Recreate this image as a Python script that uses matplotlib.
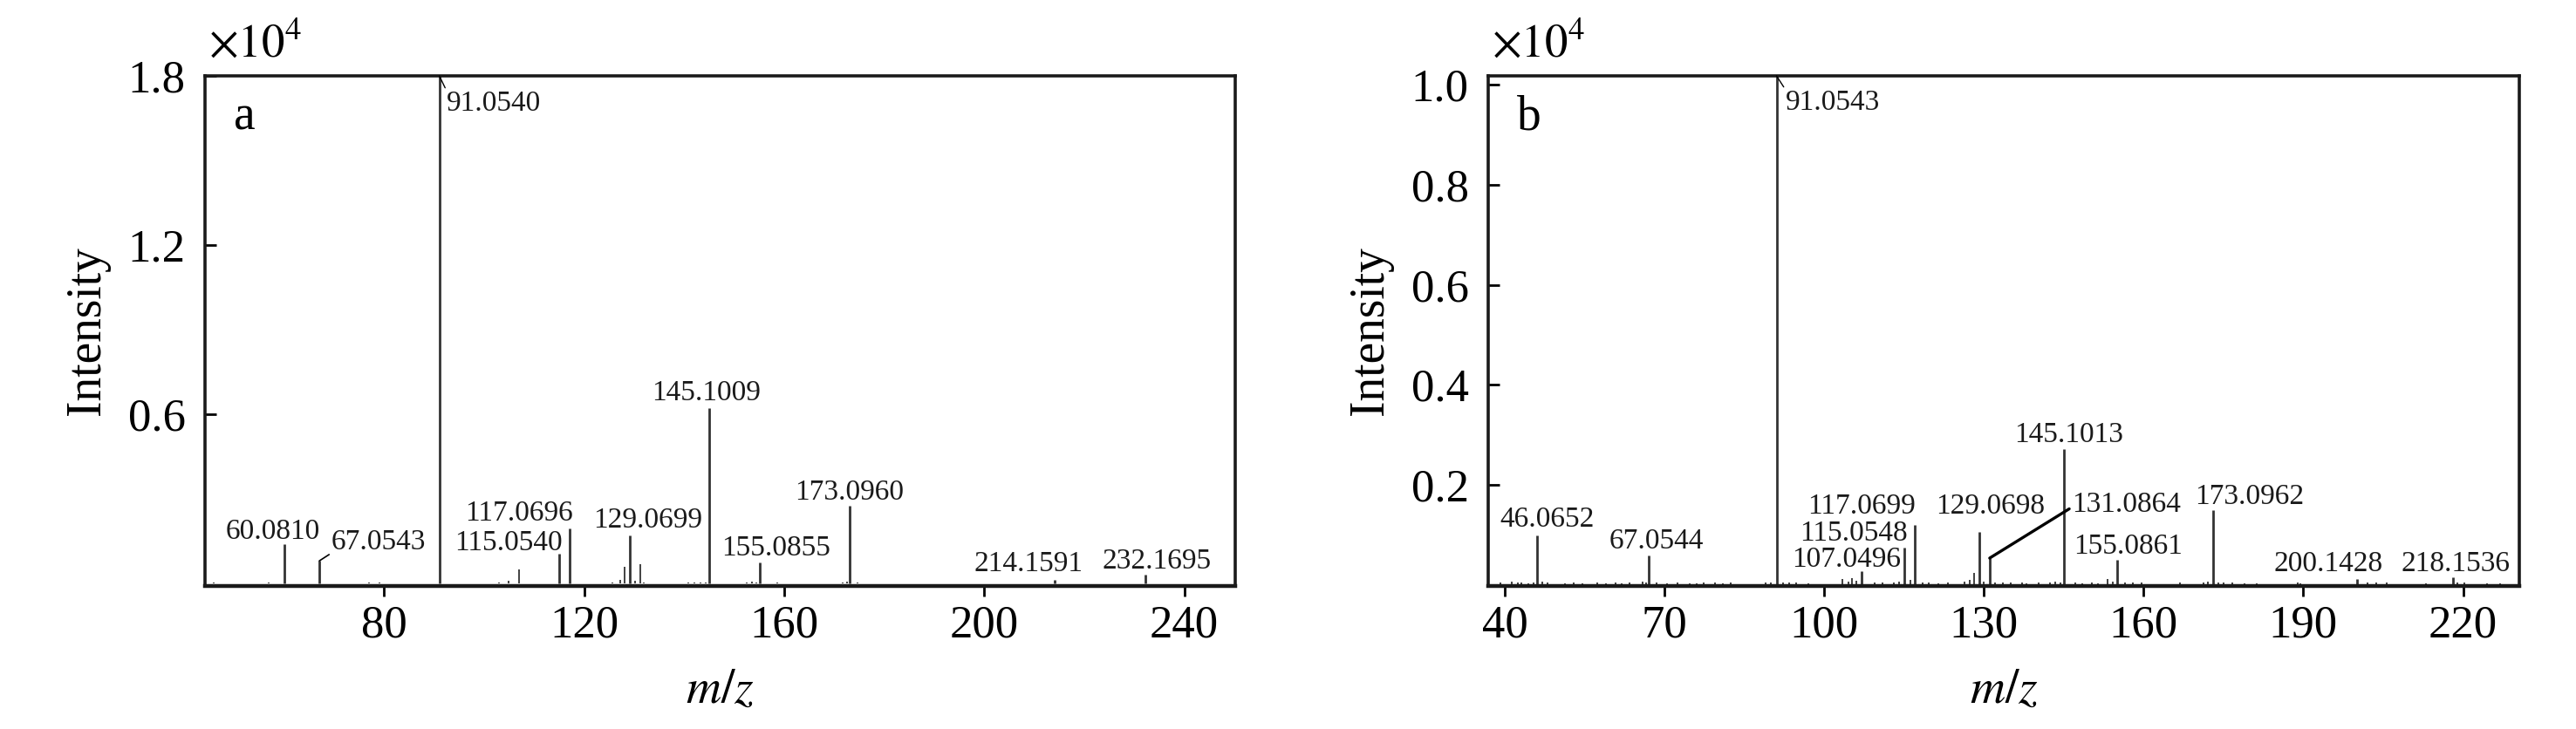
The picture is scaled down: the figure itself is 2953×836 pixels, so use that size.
import numpy as np
import matplotlib.pyplot as plt
from matplotlib.ticker import FuncFormatter

plt.rcParams['font.family'] = ['Liberation Serif', 'DejaVu Serif']
plt.rcParams['mathtext.fontset'] = 'stix'

# ---- panel a : labelled peaks (m/z, intensity counts)
a_mz = [60.0810, 67.0543, 91.0540, 115.0540, 117.0696, 129.0699,
        145.1009, 155.0855, 173.0960, 214.1591, 232.1695]
a_int = [1400, 810, 18000, 1070, 1950, 1710, 6210, 760, 2775, 140, 320]
# unlabelled small peaks
a_small_mz = [45.9, 55.1, 57.0, 65.0, 77.0, 79.1, 95.3, 103.0, 104.9, 107.07,
              125.7, 127.2, 128.1, 130.2, 131.2, 131.9, 140.9, 142.1, 143.2,
              144.4, 152.6, 153.6, 154.4, 158.7, 171.7, 172.5, 174.6]
a_small_int = [30, 25, 30, 25, 35, 30, 20, 45, 110, 520,
               30, 140, 600, 100, 700, 40, 40, 50, 50,
               40, 40, 60, 40, 30, 40, 60, 50]

# ---- panel b
b_mz = [46.0652, 67.0544, 91.0543, 107.0496, 115.0548, 117.0699, 129.0698,
        131.0864, 145.1013, 155.0861, 173.0962, 200.1428, 218.1536]
b_int = [980, 580, 10180, 270, 740, 1200, 1060, 535, 2715, 495, 1495, 117, 146]
b_small_mz = [39.2, 41.3, 42.5, 43.2, 44.5, 45.4, 47.0, 48.0, 51.3, 53.0, 54.6,
              57.4, 59.0, 60.8, 62.0, 63.4, 65.9, 66.5, 68.5, 70.5, 72.5, 74.7,
              76.0, 77.3, 79.5, 81.0, 82.4, 89.0, 90.0, 92.2, 93.5, 94.8, 97.0,
              103.4, 104.5, 105.3, 106.0, 109.4, 111.0, 113.1, 114.0, 116.2,
              118.5, 119.7, 121.5, 123.3, 126.3, 127.3, 128.1, 130.0, 132.1,
              133.5, 135.0, 137.2, 138.0, 140.3, 142.4, 143.4, 144.3, 147.2,
              148.5, 150.3, 151.5, 153.3, 154.2, 156.5, 158.0, 159.6, 166.9,
              171.2, 172.0, 174.0, 175.1, 176.6, 178.9, 181.3, 188.97, 189.5,
              202.1, 203.7, 205.6, 213.0, 219.0, 220.3, 224.5, 226.9]
b_small_int = [40, 60, 40, 50, 30, 50, 60, 40, 30, 40, 35,
               50, 30, 45, 30, 40, 60, 40, 50, 30, 40, 35,
               30, 50, 40, 35, 40, 40, 55, 50, 40, 45, 30,
               117, 60, 140, 80, 50, 40, 50, 60, 100,
               50, 40, 35, 40, 60, 100, 234, 60, 50,
               40, 45, 40, 35, 40, 50, 60, 40, 40,
               35, 40, 35, 117, 60, 40, 45, 40, 40,
               50, 60, 50, 45, 40, 35, 30, 40, 30,
               40, 40, 40, 30, 50, 40, 35, 35]

# label placement (offset in pixels from peak top, horizontal alignment)
a_place = [(-13, 6, 'center'), (14, 13, 'left'), (8, -40, 'left'), (4, 4, 'right'),
           (4, 9, 'right'), (21, 9, 'center'), (-4, 9, 'center'), (19, 8, 'center'),
           (0, 7, 'center'), (-30, 10, 'center'), (13, 7, 'center')]
b_place = [(12, 10, 'center'), (9, 8, 'center'), (10, -39, 'left'), (45, 5, 'right'),
           (4, 8, 'right'), (1, 13, 'right'), (13, 21, 'center'), (94, 53, 'left'),
           (5, 8, 'center'), (12, 7, 'center'), (41, 7, 'center'), (-33, 9, 'center'),
           (3, 7, 'center')]
# peaks that get a leader line: index -> (relpos, linewidth)
a_leaders = {1: ((0, 0.1), 1.2), 2: ((0, 1), 1.0)}
b_leaders = {2: ((0, 1), 1.0), 7: ((0, 0.4), 2.4)}

PEAK = '#333333'


def draw_panel(ax, mz, inten, small_mz, small_int, place, leaders,
               xlim, ylim, xticks, yticks, letter):
    ax.vlines(small_mz, 0, small_int, color=PEAK, lw=1.3)
    ax.vlines(mz, 0, inten, color=PEAK, lw=2.0)
    for i, (m, h) in enumerate(zip(mz, inten)):
        dx, dy, ha = place[i]
        kw = {}
        if i in leaders:
            rp, lw = leaders[i]
            kw['arrowprops'] = dict(arrowstyle='-', color='black', lw=lw,
                                    shrinkA=0, shrinkB=0, relpos=rp)
        ax.annotate(f'{m:.4f}', xy=(m, min(h, ylim[1])), xytext=(dx, dy),
                    textcoords='offset pixels', ha=ha, va='baseline',
                    fontsize=24, color='#1a1a1a', **kw)

    ax.set_xlim(*xlim)
    ax.set_ylim(*ylim)
    ax.set_xticks(xticks)
    ax.set_yticks(yticks)
    ax.yaxis.set_major_formatter(FuncFormatter(lambda v, p: f'{v / 1e4:.1f}'))
    ax.tick_params(axis='y', direction='in', length=9.5, width=2.0, pad=16,
                   labelsize=38)
    ax.tick_params(axis='x', direction='out', length=8.6, width=2.0, pad=7,
                   labelsize=38)
    for s in ax.spines.values():
        s.set_linewidth(2.6)
        s.set_color('#1a1a1a')
    ax.spines['bottom'].set_linewidth(3.2)

    ax.set_ylabel('Intensity', fontsize=40)
    ax.yaxis.set_label_coords(-0.092, 0.5)
    ax.set_xlabel('$m/z$', fontsize=40)
    ax.xaxis.set_label_coords(0.5, -0.16)

    ax.annotate(r'$\times10^{4}$', xy=(0, 1), xycoords='axes fraction',
                xytext=(4, 22), textcoords='offset pixels', fontsize=38,
                ha='left', va='baseline')
    ax.text(0.028, 0.895, letter, transform=ax.transAxes, fontsize=40,
            ha='left', va='baseline')


fig = plt.figure(figsize=(29.53, 8.36), dpi=100)
ax_a = fig.add_axes([0.07958, 0.19617, 0.39993, 0.69976])
ax_b = fig.add_axes([0.57772, 0.19617, 0.40014, 0.69976])

draw_panel(ax_a, a_mz, a_int, a_small_mz, a_small_int, a_place, a_leaders,
           (44.2, 250.2), (-80, 18000), [80, 120, 160, 200, 240],
           [6000, 12000, 18000], 'a')
draw_panel(ax_b, b_mz, b_int, b_small_mz, b_small_int, b_place, b_leaders,
           (36.9, 230.5), (-23, 10180), [40, 70, 100, 130, 160, 190, 220],
           [2000, 4000, 6000, 8000, 10000], 'b')

fig.savefig('out.png', dpi=100)
